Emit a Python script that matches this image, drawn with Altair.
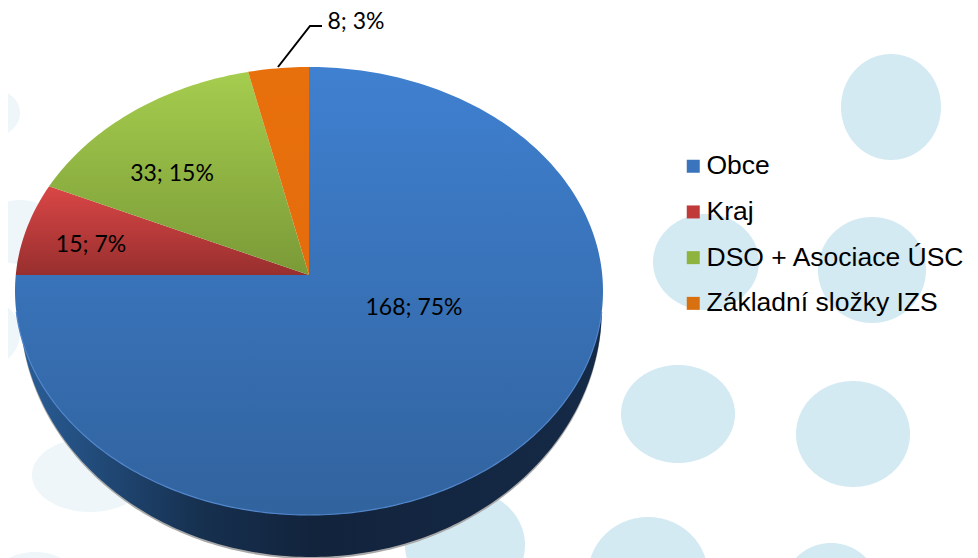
import numpy as np
import pandas as pd
import altair as alt

categories = ["Obce", "Kraj", "DSO + Asociace ÚSC", "Základní složky IZS"]
values = [168, 15, 33, 8]
percents = [75, 7, 15, 3]
legend_colors = ["#3a74bd", "#c03a3a", "#8fb33f", "#d9700f"]
label_x = [414, 91, 172, 356]
label_y = [315, 252, 181, 29]

# background spots: centre x, centre y, radius x, radius y
spots_dark = [
    (891, 107, 50, 53), (706, 262, 53, 48), (872, 270, 54, 53), (678, 414, 57, 49),
    (853, 434, 57, 53), (1005, 450, 34, 45), (648, 575, 60, 58), (831, 590, 48, 47),
    (465, 545, 60, 55),
]
spots_light = [
    (90, 475, 58, 37), (-10, 333, 30, 32), (-8, 113, 28, 24), (20, 232, 40, 32), (35, 585, 45, 33),
]

# pie face and wall outlines
CX, CY, RX, RY = 309, 291, 294, 224
AX, AY = 309, 275
WX, WY, WRX, WRY = 311, 307, 291, 250
WALL_TOP = 315
DIR_X, DIR_Y = 294, 224


def ellipse(cx, cy, rx, ry, spot=0):
    t = np.radians(np.arange(0, 361, 2))
    return pd.DataFrame({"x": cx + rx * np.cos(t), "y": cy + ry * np.sin(t),
                         "i": np.arange(len(t)), "spot": spot})


def lower_arc(cx, cy, rx, ry, y_min):
    t0 = np.degrees(np.arcsin((y_min - cy) / ry))
    t = np.radians(np.linspace(t0, 180 - t0, 181))
    return pd.DataFrame({"x": cx + rx * np.cos(t), "y": cy + ry * np.sin(t), "i": np.arange(len(t))})


def rim(angle):
    a = np.radians(angle)
    dx, dy = DIR_X * np.sin(a), -DIR_Y * np.cos(a)
    ox, oy = (AX - CX) / RX, (AY - CY) / RY
    ux, uy = dx / RX, dy / RY
    A, B, C = ux**2 + uy**2, 2 * (ox * ux + oy * uy), ox**2 + oy**2 - 1
    s = (-B + np.sqrt(B**2 - 4 * A * C)) / (2 * A)
    return AX + s * dx, AY + s * dy


def wedge(start, end):
    angles = np.arange(start, end, 1.0).tolist() + [end]
    pts = [(AX, AY)] + [rim(a) for a in angles] + [(AX, AY)]
    return pd.DataFrame({"x": [p[0] for p in pts], "y": [p[1] for p in pts], "i": range(len(pts))})


X = alt.X("x:Q", axis=None, scale=alt.Scale(domain=[8, 970], range=[0, 962]))
Y = alt.Y("y:Q", axis=None, scale=alt.Scale(domain=[8, 558], range=[0, 550]))


def vgrad(top, bottom):
    return alt.LinearGradient(gradient="linear", x1=0, y1=0, x2=0, y2=1,
                              stops=[alt.GradientStop(color=top, offset=0),
                                     alt.GradientStop(color=bottom, offset=1)])


def shape_plain(df, fill, **kw):
    return alt.Chart(df).mark_line(fill=fill, strokeOpacity=0, clip=True, **kw).encode(x=X, y=Y, order="i:Q")


dark_df = pd.concat([ellipse(*s, spot=k) for k, s in enumerate(spots_dark)])
light_df = pd.concat([ellipse(*s, spot=k) for k, s in enumerate(spots_light)])


def spots(df, color):
    return alt.Chart(df).mark_line(fill=color, strokeOpacity=0, clip=True).encode(
        x=X, y=Y, order="i:Q", detail="spot:N")


layers = [spots(light_df, "#eef6fa"), spots(dark_df, "#d3eaf3")]

# legend carrier, hidden below the pie
legend_df = pd.DataFrame({"x": [AX] * 4, "y": [AY] * 4, "cat": categories})
layers.append(alt.Chart(legend_df).mark_square(size=4).encode(
    x=X, y=Y,
    color=alt.Color("cat:N", scale=alt.Scale(domain=categories, range=legend_colors),
                    legend=alt.Legend(title=None, orient="none", legendX=672, legendY=145,
                                      symbolType="square", symbolSize=169, symbolStrokeWidth=0,
                                      symbolOpacity=1, labelFont="Liberation Sans", labelFontSize=26.5,
                                      labelColor="#000000", labelLimit=400, labelOffset=0,
                                      rowPadding=18.7, padding=0))))

# soft shadow and side wall
layers.append(shape_plain(lower_arc(WX, WY + 2, WRX, WRY, WALL_TOP + 15), "#a8a8a8"))
wall_grad = alt.LinearGradient(gradient="linear", x1=0, y1=0, x2=1, y2=0, stops=[
    alt.GradientStop(color="#2a5e98", offset=0),
    alt.GradientStop(color="#16304f", offset=0.31),
    alt.GradientStop(color="#12233c", offset=0.51),
    alt.GradientStop(color="#152a47", offset=1),
])
layers.append(shape_plain(lower_arc(WX, WY, WRX, WRY, WALL_TOP), wall_grad))

# slices, running clockwise from twelve o'clock
total = sum(values)
grads = [vgrad("#3f80d0", "#31639e"), vgrad("#da4646", "#972f2e"),
         vgrad("#a5cd4e", "#7a9a37"), vgrad("#e8700c", "#e56c0b")]
start = 0.0
for v, g in zip(values, grads):
    end = start + 360.0 * v / total
    layers.append(shape_plain(wedge(start, end), g))
    start = end

# light rim along the lower edge of the face
rim_df = lower_arc(CX, CY, RX, RY, 312)
layers.append(alt.Chart(rim_df).mark_line(color="#5287cc", strokeWidth=1.2).encode(x=X, y=Y, order="i:Q"))

# leader line of the smallest slice
leader = pd.DataFrame({"x": [278, 310, 322], "y": [67, 26, 26], "i": [0, 1, 2]})
layers.append(alt.Chart(leader).mark_line(color="#000000", strokeWidth=2).encode(x=X, y=Y, order="i:Q"))

labels_df = pd.DataFrame({"x": label_x, "y": label_y,
                          "t": [f"{v}; {p}%" for v, p in zip(values, percents)]})
layers.append(alt.Chart(labels_df).mark_text(font="Lato", fontSize=23, color="#000000", align="center",
                                             baseline="alphabetic").encode(x=X, y=Y, text="t:N"))

chart = alt.layer(*layers).properties(
    width=962, height=550, padding=0, autosize=alt.AutoSizeParams(type="none"),
    background="#ffffff"
).configure_view(stroke=None)

chart.save("out.html", embed_options={"renderer": "svg", "actions": False})
